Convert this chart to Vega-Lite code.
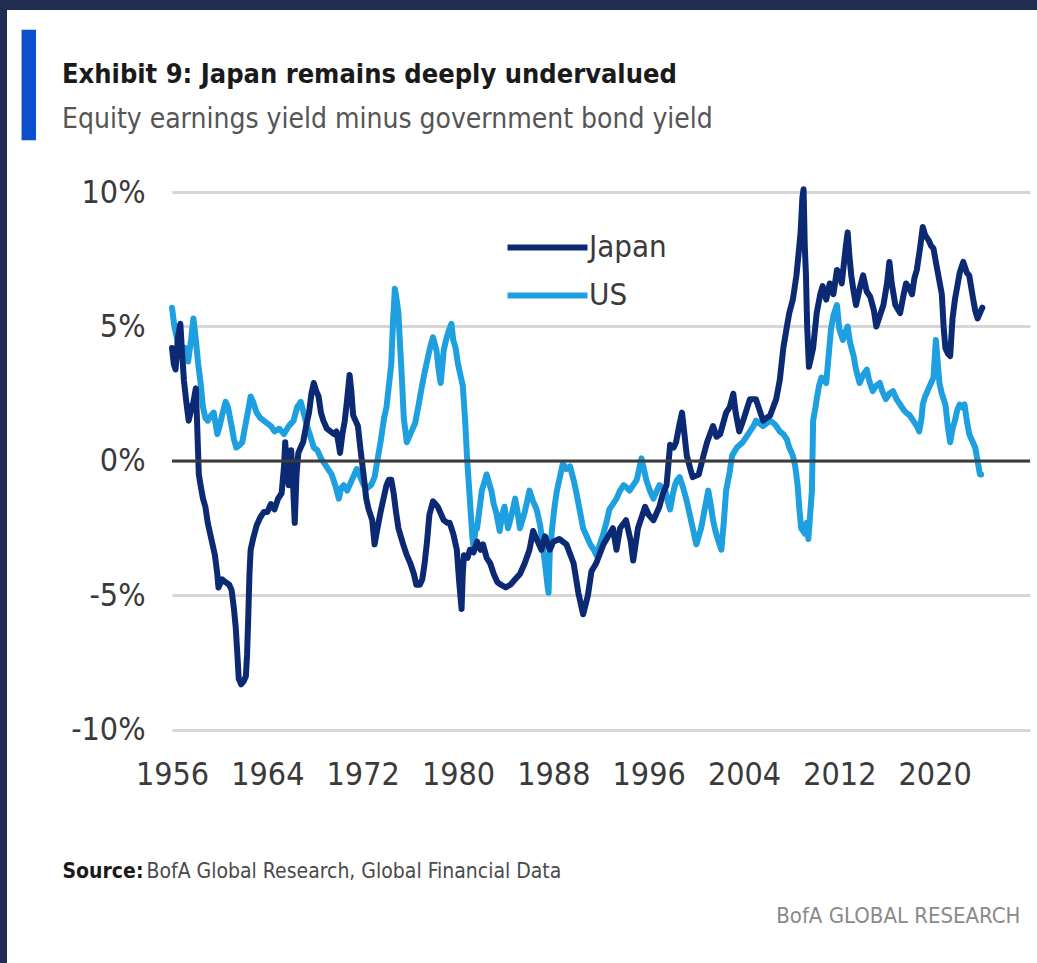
{
  "$schema": "https://vega.github.io/schema/vega-lite/v6.json",
  "width": 858,
  "height": 623,
  "autosize": {"type": "none"},
  "padding": {"left": 172, "top": 175, "right": 7, "bottom": 165},
  "background": "#1e2d50",
  "config": {
    "view": {"fill": "white", "stroke": "white", "strokeWidth": 330},
    "font": "DejaVu Sans Condensed, Liberation Sans"
  },
  "title": {
    "text": "Exhibit 9: Japan remains deeply undervalued",
    "subtitle": "Equity earnings yield minus government bond yield",
    "anchor": "start",
    "frame": "group",
    "dx": -110,
    "offset": -93,
    "font": "DejaVu Sans Condensed, Liberation Sans",
    "fontSize": 27,
    "fontWeight": "bold",
    "color": "#1a1a1a",
    "subtitleFont": "DejaVu Sans Condensed, Liberation Sans",
    "subtitleFontSize": 28,
    "subtitleColor": "#555555",
    "subtitlePadding": 17
  },
  "data": {"values": [
    {"series":"US","year":1956.0,"value":5.7},{"series":"US","year":1956.2,"value":5.0},{"series":"US","year":1956.4,"value":4.6},{"series":"US","year":1956.7,"value":3.9},{"series":"US","year":1956.9,"value":4.1},{"series":"US","year":1957.1,"value":4.2},{"series":"US","year":1957.35,"value":3.7},{"series":"US","year":1957.6,"value":4.5},{"series":"US","year":1957.8,"value":5.3},{"series":"US","year":1958.0,"value":4.5},{"series":"US","year":1958.2,"value":3.6},{"series":"US","year":1958.4,"value":2.9},{"series":"US","year":1958.6,"value":2.0},{"series":"US","year":1958.8,"value":1.6},{"series":"US","year":1959.0,"value":1.5},{"series":"US","year":1959.3,"value":1.7},{"series":"US","year":1959.5,"value":1.8},{"series":"US","year":1959.8,"value":1.0},{"series":"US","year":1960.0,"value":1.3},{"series":"US","year":1960.2,"value":1.7},{"series":"US","year":1960.5,"value":2.2},{"series":"US","year":1960.7,"value":2.0},{"series":"US","year":1961.0,"value":1.3},{"series":"US","year":1961.2,"value":0.8},{"series":"US","year":1961.4,"value":0.5},{"series":"US","year":1961.7,"value":0.6},{"series":"US","year":1961.9,"value":0.7},{"series":"US","year":1962.1,"value":1.2},{"series":"US","year":1962.4,"value":1.9},{"series":"US","year":1962.6,"value":2.4},{"series":"US","year":1962.8,"value":2.2},{"series":"US","year":1963.1,"value":1.8},{"series":"US","year":1963.4,"value":1.6},{"series":"US","year":1963.7,"value":1.5},{"series":"US","year":1964.0,"value":1.4},{"series":"US","year":1964.3,"value":1.3},{"series":"US","year":1964.6,"value":1.1},{"series":"US","year":1965.0,"value":1.2},{"series":"US","year":1965.4,"value":1.0},{"series":"US","year":1965.8,"value":1.3},{"series":"US","year":1966.2,"value":1.5},{"series":"US","year":1966.5,"value":2.0},{"series":"US","year":1966.8,"value":2.2},{"series":"US","year":1967.1,"value":1.7},{"series":"US","year":1967.4,"value":1.2},{"series":"US","year":1967.7,"value":0.8},{"series":"US","year":1967.9,"value":0.5},{"series":"US","year":1968.2,"value":0.4},{"series":"US","year":1968.5,"value":0.1},{"series":"US","year":1968.8,"value":-0.1},{"series":"US","year":1969.1,"value":-0.3},{"series":"US","year":1969.4,"value":-0.5},{"series":"US","year":1969.7,"value":-0.9},{"series":"US","year":1970.0,"value":-1.4},{"series":"US","year":1970.2,"value":-1.0},{"series":"US","year":1970.4,"value":-0.9},{"series":"US","year":1970.7,"value":-1.1},{"series":"US","year":1970.9,"value":-0.9},{"series":"US","year":1971.2,"value":-0.6},{"series":"US","year":1971.5,"value":-0.3},{"series":"US","year":1971.8,"value":-0.6},{"series":"US","year":1972.1,"value":-0.9},{"series":"US","year":1972.4,"value":-1.0},{"series":"US","year":1972.7,"value":-0.9},{"series":"US","year":1973.0,"value":-0.6},{"series":"US","year":1973.3,"value":0.2},{"series":"US","year":1973.5,"value":0.7},{"series":"US","year":1973.8,"value":1.6},{"series":"US","year":1974.0,"value":2.0},{"series":"US","year":1974.2,"value":2.8},{"series":"US","year":1974.4,"value":3.6},{"series":"US","year":1974.55,"value":5.2},{"series":"US","year":1974.7,"value":6.4},{"series":"US","year":1974.85,"value":6.0},{"series":"US","year":1975.0,"value":5.5},{"series":"US","year":1975.15,"value":4.2},{"series":"US","year":1975.3,"value":3.0},{"series":"US","year":1975.45,"value":1.6},{"series":"US","year":1975.7,"value":0.7},{"series":"US","year":1975.9,"value":0.9},{"series":"US","year":1976.1,"value":1.1},{"series":"US","year":1976.4,"value":1.4},{"series":"US","year":1976.7,"value":2.1},{"series":"US","year":1976.9,"value":2.6},{"series":"US","year":1977.2,"value":3.3},{"series":"US","year":1977.5,"value":3.9},{"series":"US","year":1977.7,"value":4.3},{"series":"US","year":1977.9,"value":4.6},{"series":"US","year":1978.2,"value":4.1},{"series":"US","year":1978.4,"value":3.3},{"series":"US","year":1978.55,"value":2.9},{"series":"US","year":1978.8,"value":4.1},{"series":"US","year":1979.0,"value":4.5},{"series":"US","year":1979.2,"value":4.8},{"series":"US","year":1979.45,"value":5.1},{"series":"US","year":1979.6,"value":4.5},{"series":"US","year":1979.8,"value":4.2},{"series":"US","year":1980.0,"value":3.6},{"series":"US","year":1980.2,"value":3.2},{"series":"US","year":1980.4,"value":2.8},{"series":"US","year":1980.6,"value":1.5},{"series":"US","year":1980.75,"value":0.2},{"series":"US","year":1980.9,"value":-0.8},{"series":"US","year":1981.05,"value":-1.8},{"series":"US","year":1981.2,"value":-2.8},{"series":"US","year":1981.3,"value":-3.2},{"series":"US","year":1981.45,"value":-2.6},{"series":"US","year":1981.6,"value":-2.5},{"series":"US","year":1981.8,"value":-1.8},{"series":"US","year":1982.0,"value":-1.1},{"series":"US","year":1982.2,"value":-0.8},{"series":"US","year":1982.4,"value":-0.5},{"series":"US","year":1982.6,"value":-0.8},{"series":"US","year":1982.8,"value":-1.1},{"series":"US","year":1983.0,"value":-1.6},{"series":"US","year":1983.2,"value":-1.9},{"series":"US","year":1983.5,"value":-2.6},{"series":"US","year":1983.7,"value":-2.0},{"series":"US","year":1983.9,"value":-1.7},{"series":"US","year":1984.2,"value":-2.5},{"series":"US","year":1984.5,"value":-2.0},{"series":"US","year":1984.8,"value":-1.4},{"series":"US","year":1985.0,"value":-1.9},{"series":"US","year":1985.2,"value":-2.5},{"series":"US","year":1985.4,"value":-2.2},{"series":"US","year":1985.6,"value":-1.9},{"series":"US","year":1985.8,"value":-1.5},{"series":"US","year":1986.0,"value":-1.1},{"series":"US","year":1986.3,"value":-1.5},{"series":"US","year":1986.6,"value":-1.8},{"series":"US","year":1986.9,"value":-2.4},{"series":"US","year":1987.1,"value":-3.1},{"series":"US","year":1987.3,"value":-3.8},{"series":"US","year":1987.5,"value":-4.6},{"series":"US","year":1987.6,"value":-4.9},{"series":"US","year":1987.7,"value":-3.4},{"series":"US","year":1987.9,"value":-2.5},{"series":"US","year":1988.1,"value":-1.7},{"series":"US","year":1988.3,"value":-1.1},{"series":"US","year":1988.6,"value":-0.5},{"series":"US","year":1988.8,"value":-0.1},{"series":"US","year":1989.1,"value":-0.3},{"series":"US","year":1989.4,"value":-0.2},{"series":"US","year":1989.7,"value":-0.7},{"series":"US","year":1989.9,"value":-1.1},{"series":"US","year":1990.2,"value":-1.8},{"series":"US","year":1990.5,"value":-2.5},{"series":"US","year":1990.8,"value":-2.8},{"series":"US","year":1991.1,"value":-3.1},{"series":"US","year":1991.4,"value":-3.3},{"series":"US","year":1991.6,"value":-3.5},{"series":"US","year":1991.9,"value":-3.1},{"series":"US","year":1992.2,"value":-2.7},{"series":"US","year":1992.5,"value":-2.2},{"series":"US","year":1992.7,"value":-1.8},{"series":"US","year":1993.0,"value":-1.6},{"series":"US","year":1993.3,"value":-1.4},{"series":"US","year":1993.6,"value":-1.1},{"series":"US","year":1993.9,"value":-0.9},{"series":"US","year":1994.2,"value":-1.0},{"series":"US","year":1994.4,"value":-1.1},{"series":"US","year":1994.7,"value":-0.9},{"series":"US","year":1995.0,"value":-0.7},{"series":"US","year":1995.2,"value":-0.3},{"series":"US","year":1995.4,"value":0.1},{"series":"US","year":1995.6,"value":-0.3},{"series":"US","year":1995.8,"value":-0.7},{"series":"US","year":1996.1,"value":-1.1},{"series":"US","year":1996.4,"value":-1.4},{"series":"US","year":1996.7,"value":-1.1},{"series":"US","year":1996.9,"value":-0.9},{"series":"US","year":1997.2,"value":-1.0},{"series":"US","year":1997.4,"value":-1.1},{"series":"US","year":1997.6,"value":-1.5},{"series":"US","year":1997.8,"value":-1.8},{"series":"US","year":1998.0,"value":-1.3},{"series":"US","year":1998.2,"value":-0.9},{"series":"US","year":1998.4,"value":-0.7},{"series":"US","year":1998.6,"value":-0.6},{"series":"US","year":1998.9,"value":-1.0},{"series":"US","year":1999.2,"value":-1.5},{"series":"US","year":1999.4,"value":-1.9},{"series":"US","year":1999.6,"value":-2.3},{"series":"US","year":1999.8,"value":-2.7},{"series":"US","year":2000.0,"value":-3.1},{"series":"US","year":2000.2,"value":-2.8},{"series":"US","year":2000.4,"value":-2.5},{"series":"US","year":2000.7,"value":-1.8},{"series":"US","year":2001.0,"value":-1.1},{"series":"US","year":2001.2,"value":-1.6},{"series":"US","year":2001.4,"value":-2.2},{"series":"US","year":2001.6,"value":-2.6},{"series":"US","year":2001.8,"value":-2.9},{"series":"US","year":2002.1,"value":-3.3},{"series":"US","year":2002.3,"value":-2.3},{"series":"US","year":2002.5,"value":-1.1},{"series":"US","year":2002.8,"value":-0.4},{"series":"US","year":2003.0,"value":0.2},{"series":"US","year":2003.4,"value":0.5},{"series":"US","year":2003.9,"value":0.7},{"series":"US","year":2004.2,"value":0.9},{"series":"US","year":2004.5,"value":1.1},{"series":"US","year":2004.8,"value":1.3},{"series":"US","year":2005.0,"value":1.5},{"series":"US","year":2005.3,"value":1.4},{"series":"US","year":2005.6,"value":1.3},{"series":"US","year":2005.9,"value":1.4},{"series":"US","year":2006.2,"value":1.5},{"series":"US","year":2006.5,"value":1.4},{"series":"US","year":2006.7,"value":1.3},{"series":"US","year":2007.0,"value":1.1},{"series":"US","year":2007.3,"value":1.0},{"series":"US","year":2007.6,"value":0.8},{"series":"US","year":2007.8,"value":0.5},{"series":"US","year":2008.1,"value":0.2},{"series":"US","year":2008.3,"value":-0.2},{"series":"US","year":2008.5,"value":-0.9},{"series":"US","year":2008.65,"value":-1.8},{"series":"US","year":2008.8,"value":-2.5},{"series":"US","year":2008.95,"value":-2.6},{"series":"US","year":2009.1,"value":-2.7},{"series":"US","year":2009.25,"value":-2.3},{"series":"US","year":2009.4,"value":-2.9},{"series":"US","year":2009.55,"value":-2.0},{"series":"US","year":2009.7,"value":-1.1},{"series":"US","year":2009.8,"value":1.5},{"series":"US","year":2010.0,"value":2.0},{"series":"US","year":2010.1,"value":2.3},{"series":"US","year":2010.3,"value":2.8},{"series":"US","year":2010.5,"value":3.1},{"series":"US","year":2010.7,"value":3.0},{"series":"US","year":2010.9,"value":2.9},{"series":"US","year":2011.1,"value":3.9},{"series":"US","year":2011.3,"value":4.9},{"series":"US","year":2011.5,"value":5.4},{"series":"US","year":2011.8,"value":5.8},{"series":"US","year":2012.0,"value":4.9},{"series":"US","year":2012.3,"value":4.5},{"series":"US","year":2012.5,"value":4.8},{"series":"US","year":2012.7,"value":5.0},{"series":"US","year":2012.9,"value":4.4},{"series":"US","year":2013.2,"value":3.9},{"series":"US","year":2013.4,"value":3.4},{"series":"US","year":2013.7,"value":2.9},{"series":"US","year":2014.0,"value":3.2},{"series":"US","year":2014.3,"value":3.4},{"series":"US","year":2014.5,"value":3.0},{"series":"US","year":2014.8,"value":2.6},{"series":"US","year":2015.1,"value":2.8},{"series":"US","year":2015.4,"value":2.9},{"series":"US","year":2015.6,"value":2.6},{"series":"US","year":2015.9,"value":2.3},{"series":"US","year":2016.2,"value":2.5},{"series":"US","year":2016.5,"value":2.6},{"series":"US","year":2016.8,"value":2.3},{"series":"US","year":2017.1,"value":2.1},{"series":"US","year":2017.4,"value":1.9},{"series":"US","year":2017.6,"value":1.8},{"series":"US","year":2017.9,"value":1.7},{"series":"US","year":2018.2,"value":1.5},{"series":"US","year":2018.5,"value":1.3},{"series":"US","year":2018.7,"value":1.1},{"series":"US","year":2018.9,"value":1.6},{"series":"US","year":2019.0,"value":2.1},{"series":"US","year":2019.2,"value":2.4},{"series":"US","year":2019.4,"value":2.6},{"series":"US","year":2019.7,"value":2.9},{"series":"US","year":2019.9,"value":3.1},{"series":"US","year":2020.0,"value":3.8},{"series":"US","year":2020.1,"value":4.5},{"series":"US","year":2020.25,"value":3.7},{"series":"US","year":2020.4,"value":2.9},{"series":"US","year":2020.6,"value":2.5},{"series":"US","year":2020.9,"value":2.1},{"series":"US","year":2021.1,"value":1.3},{"series":"US","year":2021.3,"value":0.7},{"series":"US","year":2021.5,"value":1.2},{"series":"US","year":2021.7,"value":1.5},{"series":"US","year":2021.9,"value":1.9},{"series":"US","year":2022.1,"value":2.1},{"series":"US","year":2022.3,"value":2.0},{"series":"US","year":2022.5,"value":2.1},{"series":"US","year":2022.7,"value":1.5},{"series":"US","year":2022.9,"value":1.0},{"series":"US","year":2023.1,"value":0.8},{"series":"US","year":2023.4,"value":0.5},{"series":"US","year":2023.6,"value":0.0},{"series":"US","year":2023.8,"value":-0.5},{"series":"US","year":2023.9,"value":-0.5},
    {"series":"Japan","year":1956.0,"value":4.2},{"series":"Japan","year":1956.15,"value":3.6},{"series":"Japan","year":1956.3,"value":3.4},{"series":"Japan","year":1956.5,"value":4.6},{"series":"Japan","year":1956.7,"value":5.1},{"series":"Japan","year":1956.85,"value":4.0},{"series":"Japan","year":1957.0,"value":3.0},{"series":"Japan","year":1957.2,"value":2.2},{"series":"Japan","year":1957.4,"value":1.5},{"series":"Japan","year":1957.6,"value":1.9},{"series":"Japan","year":1957.8,"value":2.2},{"series":"Japan","year":1958.0,"value":2.7},{"series":"Japan","year":1958.1,"value":1.5},{"series":"Japan","year":1958.25,"value":-0.5},{"series":"Japan","year":1958.4,"value":-0.9},{"series":"Japan","year":1958.6,"value":-1.4},{"series":"Japan","year":1958.8,"value":-1.7},{"series":"Japan","year":1959.0,"value":-2.3},{"series":"Japan","year":1959.2,"value":-2.7},{"series":"Japan","year":1959.4,"value":-3.1},{"series":"Japan","year":1959.6,"value":-3.5},{"series":"Japan","year":1959.8,"value":-4.2},{"series":"Japan","year":1959.9,"value":-4.7},{"series":"Japan","year":1960.2,"value":-4.4},{"series":"Japan","year":1960.5,"value":-4.5},{"series":"Japan","year":1960.8,"value":-4.6},{"series":"Japan","year":1961.0,"value":-4.8},{"series":"Japan","year":1961.2,"value":-5.5},{"series":"Japan","year":1961.35,"value":-6.2},{"series":"Japan","year":1961.5,"value":-7.3},{"series":"Japan","year":1961.6,"value":-8.1},{"series":"Japan","year":1961.8,"value":-8.3},{"series":"Japan","year":1962.0,"value":-8.2},{"series":"Japan","year":1962.2,"value":-8.0},{"series":"Japan","year":1962.3,"value":-7.2},{"series":"Japan","year":1962.4,"value":-5.8},{"series":"Japan","year":1962.5,"value":-4.2},{"series":"Japan","year":1962.6,"value":-3.3},{"series":"Japan","year":1962.8,"value":-2.9},{"series":"Japan","year":1963.1,"value":-2.4},{"series":"Japan","year":1963.4,"value":-2.1},{"series":"Japan","year":1963.7,"value":-1.9},{"series":"Japan","year":1964.0,"value":-1.9},{"series":"Japan","year":1964.3,"value":-1.6},{"series":"Japan","year":1964.6,"value":-1.8},{"series":"Japan","year":1964.9,"value":-1.4},{"series":"Japan","year":1965.2,"value":-1.2},{"series":"Japan","year":1965.4,"value":-0.2},{"series":"Japan","year":1965.5,"value":0.7},{"series":"Japan","year":1965.65,"value":-0.3},{"series":"Japan","year":1965.8,"value":-0.9},{"series":"Japan","year":1966.0,"value":0.4},{"series":"Japan","year":1966.15,"value":-0.8},{"series":"Japan","year":1966.3,"value":-2.3},{"series":"Japan","year":1966.45,"value":-0.5},{"series":"Japan","year":1966.6,"value":0.3},{"series":"Japan","year":1966.8,"value":0.5},{"series":"Japan","year":1967.0,"value":0.7},{"series":"Japan","year":1967.3,"value":1.4},{"series":"Japan","year":1967.5,"value":1.8},{"series":"Japan","year":1967.7,"value":2.5},{"series":"Japan","year":1967.9,"value":2.9},{"series":"Japan","year":1968.1,"value":2.6},{"series":"Japan","year":1968.3,"value":2.4},{"series":"Japan","year":1968.5,"value":1.8},{"series":"Japan","year":1968.7,"value":1.5},{"series":"Japan","year":1969.0,"value":1.2},{"series":"Japan","year":1969.3,"value":1.1},{"series":"Japan","year":1969.6,"value":1.0},{"series":"Japan","year":1969.8,"value":1.1},{"series":"Japan","year":1970.0,"value":0.6},{"series":"Japan","year":1970.1,"value":0.3},{"series":"Japan","year":1970.3,"value":1.0},{"series":"Japan","year":1970.5,"value":1.5},{"series":"Japan","year":1970.7,"value":2.3},{"series":"Japan","year":1970.9,"value":3.2},{"series":"Japan","year":1971.05,"value":2.6},{"series":"Japan","year":1971.2,"value":1.7},{"series":"Japan","year":1971.4,"value":1.5},{"series":"Japan","year":1971.6,"value":1.3},{"series":"Japan","year":1971.8,"value":0.5},{"series":"Japan","year":1972.1,"value":-0.6},{"series":"Japan","year":1972.3,"value":-1.4},{"series":"Japan","year":1972.5,"value":-1.8},{"series":"Japan","year":1972.8,"value":-2.2},{"series":"Japan","year":1973.0,"value":-3.1},{"series":"Japan","year":1973.2,"value":-2.6},{"series":"Japan","year":1973.5,"value":-1.9},{"series":"Japan","year":1973.8,"value":-1.3},{"series":"Japan","year":1974.0,"value":-0.9},{"series":"Japan","year":1974.2,"value":-0.7},{"series":"Japan","year":1974.4,"value":-0.7},{"series":"Japan","year":1974.6,"value":-1.2},{"series":"Japan","year":1974.8,"value":-1.9},{"series":"Japan","year":1975.0,"value":-2.5},{"series":"Japan","year":1975.2,"value":-2.8},{"series":"Japan","year":1975.4,"value":-3.1},{"series":"Japan","year":1975.7,"value":-3.5},{"series":"Japan","year":1976.0,"value":-3.8},{"series":"Japan","year":1976.3,"value":-4.2},{"series":"Japan","year":1976.5,"value":-4.6},{"series":"Japan","year":1976.8,"value":-4.6},{"series":"Japan","year":1977.0,"value":-4.4},{"series":"Japan","year":1977.2,"value":-3.8},{"series":"Japan","year":1977.4,"value":-3.0},{"series":"Japan","year":1977.6,"value":-2.0},{"series":"Japan","year":1977.9,"value":-1.5},{"series":"Japan","year":1978.1,"value":-1.6},{"series":"Japan","year":1978.3,"value":-1.7},{"series":"Japan","year":1978.6,"value":-2.0},{"series":"Japan","year":1978.8,"value":-2.2},{"series":"Japan","year":1979.1,"value":-2.3},{"series":"Japan","year":1979.3,"value":-2.3},{"series":"Japan","year":1979.6,"value":-2.7},{"series":"Japan","year":1979.9,"value":-3.3},{"series":"Japan","year":1980.1,"value":-4.5},{"series":"Japan","year":1980.3,"value":-5.5},{"series":"Japan","year":1980.4,"value":-4.2},{"series":"Japan","year":1980.5,"value":-3.5},{"series":"Japan","year":1980.8,"value":-3.6},{"series":"Japan","year":1981.0,"value":-3.3},{"series":"Japan","year":1981.3,"value":-3.4},{"series":"Japan","year":1981.6,"value":-3.0},{"series":"Japan","year":1981.9,"value":-3.3},{"series":"Japan","year":1982.1,"value":-3.1},{"series":"Japan","year":1982.4,"value":-3.6},{"series":"Japan","year":1982.7,"value":-3.8},{"series":"Japan","year":1983.0,"value":-4.2},{"series":"Japan","year":1983.3,"value":-4.5},{"series":"Japan","year":1983.6,"value":-4.6},{"series":"Japan","year":1984.0,"value":-4.7},{"series":"Japan","year":1984.4,"value":-4.6},{"series":"Japan","year":1984.8,"value":-4.4},{"series":"Japan","year":1985.2,"value":-4.2},{"series":"Japan","year":1985.6,"value":-3.8},{"series":"Japan","year":1986.0,"value":-3.3},{"series":"Japan","year":1986.3,"value":-2.6},{"series":"Japan","year":1986.7,"value":-3.0},{"series":"Japan","year":1987.0,"value":-3.3},{"series":"Japan","year":1987.3,"value":-2.8},{"series":"Japan","year":1987.7,"value":-3.3},{"series":"Japan","year":1988.0,"value":-3.0},{"series":"Japan","year":1988.5,"value":-2.9},{"series":"Japan","year":1989.1,"value":-3.1},{"series":"Japan","year":1989.7,"value":-3.8},{"series":"Japan","year":1990.1,"value":-4.9},{"series":"Japan","year":1990.5,"value":-5.7},{"series":"Japan","year":1990.9,"value":-5.0},{"series":"Japan","year":1991.2,"value":-4.1},{"series":"Japan","year":1991.6,"value":-3.8},{"series":"Japan","year":1992.2,"value":-3.1},{"series":"Japan","year":1992.6,"value":-2.8},{"series":"Japan","year":1993.0,"value":-2.5},{"series":"Japan","year":1993.3,"value":-3.3},{"series":"Japan","year":1993.6,"value":-2.5},{"series":"Japan","year":1994.1,"value":-2.2},{"series":"Japan","year":1994.5,"value":-3.0},{"series":"Japan","year":1994.7,"value":-3.7},{"series":"Japan","year":1995.1,"value":-2.5},{"series":"Japan","year":1995.7,"value":-1.7},{"series":"Japan","year":1996.0,"value":-2.0},{"series":"Japan","year":1996.4,"value":-2.2},{"series":"Japan","year":1996.9,"value":-1.7},{"series":"Japan","year":1997.2,"value":-1.2},{"series":"Japan","year":1997.5,"value":-0.9},{"series":"Japan","year":1997.8,"value":0.6},{"series":"Japan","year":1998.1,"value":0.5},{"series":"Japan","year":1998.3,"value":0.7},{"series":"Japan","year":1998.6,"value":1.4},{"series":"Japan","year":1998.8,"value":1.8},{"series":"Japan","year":1999.0,"value":1.0},{"series":"Japan","year":1999.2,"value":0.2},{"series":"Japan","year":1999.5,"value":-0.3},{"series":"Japan","year":1999.7,"value":-0.6},{"series":"Japan","year":2000.2,"value":-0.5},{"series":"Japan","year":2000.6,"value":0.2},{"series":"Japan","year":2000.9,"value":0.7},{"series":"Japan","year":2001.4,"value":1.3},{"series":"Japan","year":2001.7,"value":0.9},{"series":"Japan","year":2002.0,"value":1.0},{"series":"Japan","year":2002.5,"value":1.8},{"series":"Japan","year":2002.8,"value":2.0},{"series":"Japan","year":2003.1,"value":2.5},{"series":"Japan","year":2003.3,"value":1.8},{"series":"Japan","year":2003.6,"value":1.1},{"series":"Japan","year":2004.0,"value":1.6},{"series":"Japan","year":2004.5,"value":2.3},{"series":"Japan","year":2005.0,"value":2.3},{"series":"Japan","year":2005.3,"value":1.9},{"series":"Japan","year":2005.6,"value":1.5},{"series":"Japan","year":2006.2,"value":1.7},{"series":"Japan","year":2006.7,"value":2.3},{"series":"Japan","year":2007.0,"value":3.0},{"series":"Japan","year":2007.3,"value":4.2},{"series":"Japan","year":2007.6,"value":5.0},{"series":"Japan","year":2007.8,"value":5.5},{"series":"Japan","year":2008.1,"value":6.0},{"series":"Japan","year":2008.4,"value":6.9},{"series":"Japan","year":2008.6,"value":7.8},{"series":"Japan","year":2008.75,"value":8.5},{"series":"Japan","year":2008.9,"value":9.8},{"series":"Japan","year":2009.0,"value":10.1},{"series":"Japan","year":2009.1,"value":8.0},{"series":"Japan","year":2009.2,"value":6.9},{"series":"Japan","year":2009.3,"value":5.0},{"series":"Japan","year":2009.45,"value":3.5},{"series":"Japan","year":2009.6,"value":3.8},{"series":"Japan","year":2009.8,"value":4.2},{"series":"Japan","year":2010.1,"value":5.5},{"series":"Japan","year":2010.4,"value":6.2},{"series":"Japan","year":2010.6,"value":6.5},{"series":"Japan","year":2010.9,"value":6.0},{"series":"Japan","year":2011.2,"value":6.6},{"series":"Japan","year":2011.5,"value":6.2},{"series":"Japan","year":2011.8,"value":7.1},{"series":"Japan","year":2012.0,"value":7.0},{"series":"Japan","year":2012.2,"value":6.6},{"series":"Japan","year":2012.4,"value":7.4},{"series":"Japan","year":2012.55,"value":8.0},{"series":"Japan","year":2012.7,"value":8.5},{"series":"Japan","year":2012.85,"value":7.6},{"series":"Japan","year":2013.0,"value":6.9},{"series":"Japan","year":2013.2,"value":6.3},{"series":"Japan","year":2013.4,"value":5.8},{"series":"Japan","year":2013.7,"value":6.4},{"series":"Japan","year":2014.0,"value":6.9},{"series":"Japan","year":2014.3,"value":6.3},{"series":"Japan","year":2014.6,"value":6.1},{"series":"Japan","year":2014.9,"value":5.6},{"series":"Japan","year":2015.1,"value":5.0},{"series":"Japan","year":2015.4,"value":5.4},{"series":"Japan","year":2015.7,"value":5.8},{"series":"Japan","year":2016.0,"value":6.6},{"series":"Japan","year":2016.2,"value":7.4},{"series":"Japan","year":2016.4,"value":6.6},{"series":"Japan","year":2016.7,"value":5.8},{"series":"Japan","year":2017.1,"value":5.5},{"series":"Japan","year":2017.4,"value":6.2},{"series":"Japan","year":2017.6,"value":6.6},{"series":"Japan","year":2017.9,"value":6.4},{"series":"Japan","year":2018.1,"value":6.2},{"series":"Japan","year":2018.3,"value":6.8},{"series":"Japan","year":2018.5,"value":7.1},{"series":"Japan","year":2018.8,"value":8.0},{"series":"Japan","year":2019.0,"value":8.7},{"series":"Japan","year":2019.2,"value":8.4},{"series":"Japan","year":2019.5,"value":8.2},{"series":"Japan","year":2019.7,"value":8.0},{"series":"Japan","year":2019.9,"value":7.9},{"series":"Japan","year":2020.1,"value":7.4},{"series":"Japan","year":2020.35,"value":6.8},{"series":"Japan","year":2020.6,"value":6.2},{"series":"Japan","year":2020.75,"value":5.0},{"series":"Japan","year":2020.9,"value":4.2},{"series":"Japan","year":2021.1,"value":4.0},{"series":"Japan","year":2021.3,"value":3.9},{"series":"Japan","year":2021.5,"value":5.3},{"series":"Japan","year":2021.7,"value":6.0},{"series":"Japan","year":2021.9,"value":6.5},{"series":"Japan","year":2022.1,"value":7.0},{"series":"Japan","year":2022.4,"value":7.4},{"series":"Japan","year":2022.7,"value":7.0},{"series":"Japan","year":2022.9,"value":6.9},{"series":"Japan","year":2023.2,"value":6.1},{"series":"Japan","year":2023.4,"value":5.6},{"series":"Japan","year":2023.6,"value":5.3},{"series":"Japan","year":2023.8,"value":5.5},{"series":"Japan","year":2024.0,"value":5.7}
  ]},
  "layer": [
    {
      "mark": {"type": "line", "strokeWidth": 6, "strokeJoin": "round", "strokeCap": "round"},
      "encoding": {
        "x": {
          "field": "year", "type": "quantitative",
          "scale": {"domain": [1956, 2028], "nice": false, "zero": false},
          "axis": {
            "orient": "bottom", "offset": -58,
            "values": [1956, 1964, 1972, 1980, 1988, 1996, 2004, 2012, 2020],
            "format": "d", "labelFontSize": 32, "labelColor": "#3a3a3a", "labelPadding": 19,
            "labelFlush": false, "labelOverlap": false,
            "domain": false, "ticks": false, "grid": false,
            "title": "Source:", "titleFontSize": 21, "titleFontWeight": "bold", "titleColor": "#1a1a1a",
            "titleAlign": "left", "titleBaseline": "alphabetic", "titleAnchor": "start",
            "titleX": -110, "titleY": 137
          }
        },
        "y": {
          "field": "value", "type": "quantitative",
          "scale": {"domain": [-12.528, 10.632], "nice": false, "zero": false},
          "axis": {
            "values": [-10, -5, 0, 5, 10],
            "labelExpr": "datum.value + '%'",
            "labelFontSize": 32, "labelColor": "#3a3a3a", "labelPadding": 27,
            "domain": false, "ticks": false,
            "grid": true, "gridColor": "#d6d6d6", "gridWidth": 3,
            "title": "▎", "titleFont": "DejaVu Sans Mono", "titleFontSize": 93, "titleFontWeight": "normal",
            "titleColor": "#0b4fcf", "titleAngle": 0, "titleAlign": "left", "titleBaseline": "alphabetic",
            "titleX": -150, "titleY": -59
          }
        },
        "color": {
          "field": "series", "type": "nominal",
          "scale": {"domain": ["Japan", "US"], "range": ["#0c2a74", "#1ea0e0"]},
          "legend": {
            "orient": "none", "legendX": 360, "legendY": 57,
            "title": null, "padding": 0,
            "symbolType": "M-4,0H4", "symbolSize": 400, "symbolStrokeWidth": 6,
            "labelFontSize": 31, "labelColor": "#3a3a3a", "labelOffset": 26,
            "rowPadding": 16
          }
        }
      }
    },
    {
      "data": {"values": [{}]},
      "mark": {"type": "rule", "color": "#3c3c3c", "strokeWidth": 3},
      "encoding": {
        "x": {
          "datum": 1956, "type": "quantitative",
          "axis": {
            "orient": "bottom", "offset": -58,
            "labels": false, "domain": false, "ticks": false, "grid": false,
            "title": "BofA Global Research, Global Financial Data", "titleFontSize": 21,
            "titleFontWeight": "normal", "titleColor": "#4a4a4a",
            "titleAlign": "left", "titleBaseline": "alphabetic", "titleAnchor": "start",
            "titleX": -26, "titleY": 137
          }
        },
        "x2": {"datum": 2028},
        "y": {
          "datum": 0, "type": "quantitative",
          "axis": {
            "orient": "right",
            "labels": false, "domain": false, "ticks": false, "grid": false,
            "title": "BofA GLOBAL RESEARCH", "titleFontSize": 22, "titleFontWeight": "normal",
            "titleColor": "#8a8a8a", "titleAngle": 0, "titleAlign": "right", "titleBaseline": "alphabetic",
            "titleX": -10, "titleY": 747
          }
        }
      }
    }
  ],
  "resolve": {"axis": {"x": "independent", "y": "independent"}}
}
